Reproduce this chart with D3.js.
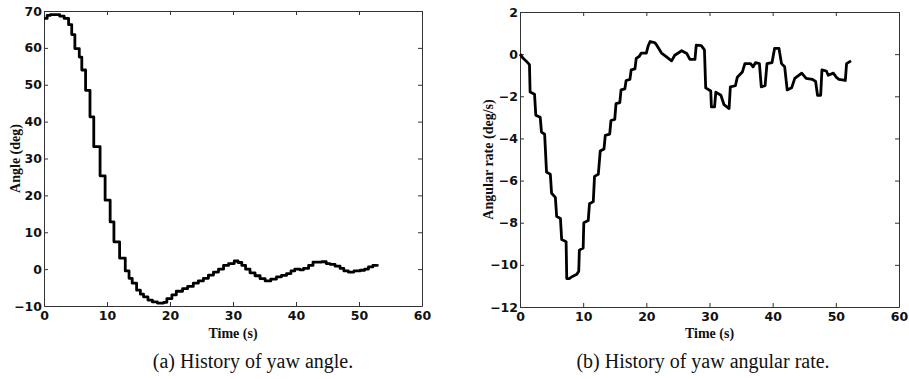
<!DOCTYPE html>
<html>
<head>
  <meta charset="utf-8">
  <title>Yaw history</title>
  <script src="https://d3js.org/d3.v7.min.js"></script>
  <style>
    body { margin: 0; background: #fff; }
    .tick text { font: bold 12.5px "DejaVu Sans", Arial, sans-serif; fill: #111; }
    .lbl { font: bold 14px "Liberation Serif", "Times New Roman", serif; fill: #111; }
    .cap { font: 20px "Liberation Serif", "Times New Roman", serif; fill: #111; }
  </style>
</head>
<body>
  <script>
    // yaw angle (deg) vs time (s), stepwise hold
    var angleTime = [0, 0.5, 1, 2.5, 3.2, 3.9, 4.4, 4.9, 5.6, 6.0, 6.6, 7.3, 7.9, 8.9, 9.7, 10.5, 11.1, 12.0, 12.9, 13.5,
      14.0, 14.7, 15.3, 15.8, 16.5, 17.2, 18.0, 19.0, 19.5, 20.3, 21.0, 22.0, 22.8, 23.7, 24.5, 25.3, 26.1, 26.9, 27.7, 28.5,
      29.3, 30.2, 30.8, 31.4, 32.0, 32.7, 33.5, 34.3, 35.1, 36.0, 36.9, 37.7, 38.5, 39.2, 39.8, 40.6, 41.2, 42.0, 42.7, 44.1,
      44.8, 45.4, 46.2, 47.0, 47.6, 48.3, 49.2, 50.2, 50.9, 51.5, 52.2, 52.9];
    var angleDeg = [68.0, 68.8, 69.0, 68.6, 68.0, 66.3, 63.6, 59.8, 57.5, 54.0, 48.5, 41.3, 33.2, 25.3, 18.7, 12.8, 7.4, 3.0, -0.5, -2.5,
      -3.8, -5.7, -6.8, -7.5, -8.4, -8.9, -9.2, -9.0, -8.0, -7.0, -6.0, -5.3, -4.7, -3.8, -3.2, -2.5, -1.6, -0.8, 0.0, 1.0,
      1.5, 2.2, 1.8, 1.0, 0.0, -1.0, -1.8, -2.6, -3.2, -2.7, -2.1, -1.7, -1.2, -0.5, 0.0, -0.2, 0.2, 1.0, 1.9, 2.0,
      1.5, 1.3, 0.8, 0.2, -0.5, -0.8, -0.5, -0.3, 0.0, 0.6, 1.0, 1.3];

    // yaw angular rate (deg/s) vs time (s)
    var rateTime = [0, 0.5, 1.2, 1.5, 1.6, 2.3, 2.5, 3.2, 3.4, 3.9, 4.2, 4.8, 5.0, 5.6, 5.8, 6.4, 6.6, 7.3, 7.4, 7.8,
      8.3, 9.0, 9.3, 9.4, 10.0, 10.1, 10.8, 11.0, 11.6, 11.8, 12.4, 12.7, 13.3, 13.5, 14.2, 14.4, 15.0, 15.2, 15.8, 16.0,
      16.6, 16.8, 17.4, 17.6, 18.2, 18.4, 18.9, 19.2, 20.0, 20.3, 20.6, 21.3, 21.6, 22.4, 23.2, 24.0, 24.5, 25.6, 26.4, 26.9,
      27.7, 27.9, 28.7, 29.2, 29.4, 30.2, 30.3, 30.8, 31.0, 31.8, 32.3, 33.1, 33.3, 34.1, 34.4, 35.2, 35.6, 36.5, 36.9, 37.3,
      37.9, 38.2, 38.8, 39.1, 39.9, 40.3, 41.0, 41.4, 41.9, 42.3, 43.0, 43.5, 44.6, 45.3, 46.3, 46.8, 47.1, 47.6, 47.8, 48.5,
      48.8, 49.6, 50.1, 50.5, 51.5, 51.7, 52.4];
    var rateDeg = [0, -0.2, -0.4, -0.5, -1.8, -1.9, -2.9, -3.0, -3.7, -3.8, -5.6, -5.7, -6.6, -6.8, -7.7, -7.8, -8.8, -8.9, -10.65, -10.65,
      -10.55, -10.45, -10.3, -9.3, -9.2, -8.0, -7.9, -7.1, -7.0, -5.8, -5.7, -4.6, -4.5, -3.85, -3.8, -3.15, -3.1, -2.35, -2.3, -1.7,
      -1.65, -1.25, -1.2, -0.75, -0.7, -0.2, -0.1, 0.05, 0.05, 0.4, 0.6, 0.55, 0.45, 0.05, -0.13, -0.32, -0.05, 0.16, 0.03, -0.25,
      -0.25, 0.43, 0.4, 0.2, -1.6, -1.75, -2.5, -2.5, -1.8, -1.95, -2.4, -2.58, -1.55, -1.5, -1.1, -0.85, -0.45, -0.45, -0.6, -0.4,
      -0.45, -1.55, -1.5, -0.45, -0.4, 0.27, 0.27, -0.45, -0.6, -1.7, -1.6, -1.15, -0.9, -1.15, -1.2, -1.3, -1.95, -1.95, -0.75, -0.8,
      -1.0, -0.9, -1.1, -1.2, -1.25, -0.45, -0.32];

    var xTicks = [0, 10, 20, 30, 40, 50, 60];
    var angleTicks = [-10, 0, 10, 20, 30, 40, 50, 60, 70];
    var rateTicks = [-12, -10, -8, -6, -4, -2, 0, 2];

    var svg = d3.select('body').append('svg')
      .attr('width', 909)
      .attr('height', 379);

    function panel(opt) {
      var x = d3.scaleLinear().domain([0, 60]).range([opt.left, opt.right]);
      var y = d3.scaleLinear().domain(opt.yDomain).range([opt.bottom, opt.top]);
      var g = svg.append('g');

      // box with inward ticks on all four sides
      g.append('g').attr('transform', 'translate(0,' + opt.bottom + ')')
        .call(d3.axisBottom(x).tickValues(xTicks).tickSizeInner(-4).tickSizeOuter(0).tickPadding(5));
      g.append('g').attr('transform', 'translate(0,' + opt.top + ')')
        .call(d3.axisTop(x).tickValues(xTicks).tickSizeInner(-4).tickSizeOuter(0).tickFormat(''));
      g.append('g').attr('transform', 'translate(' + opt.left + ',0)')
        .call(d3.axisLeft(y).tickValues(opt.yTicks).tickSizeInner(-4).tickSizeOuter(0).tickPadding(2));
      g.append('g').attr('transform', 'translate(' + opt.right + ',0)')
        .call(d3.axisRight(y).tickValues(opt.yTicks).tickSizeInner(-4).tickSizeOuter(0).tickFormat(''));
      g.selectAll('.domain').attr('stroke', '#333');
      g.selectAll('.tick line').attr('stroke', '#333');

      var pts = opt.t.map(function(d, i) { return [d, opt.v[i]]; });
      g.append('path')
        .datum(pts)
        .attr('fill', 'none')
        .attr('stroke', '#000')
        .attr('stroke-width', 2.8)
        .attr('stroke-linejoin', 'round')
        .attr('d', d3.line()
          .x(function(d) { return x(d[0]); })
          .y(function(d) { return y(d[1]); })
          .curve(opt.curve));

      g.append('text').attr('class', 'lbl')
        .attr('x', (opt.left + opt.right) / 2)
        .attr('y', 338)
        .attr('text-anchor', 'middle')
        .text('Time (s)');
      g.append('text').attr('class', 'lbl')
        .attr('transform', 'translate(' + opt.yLabelX + ',' + (opt.top + opt.bottom) / 2 + ') rotate(-90)')
        .attr('text-anchor', 'middle')
        .text(opt.yLabel);
      g.append('text').attr('class', 'cap')
        .attr('x', opt.capX)
        .attr('y', 368)
        .attr('text-anchor', 'middle')
        .text(opt.caption);
    }

    panel({
      left: 44, right: 422, top: 11, bottom: 306,
      yDomain: [-10, 70], yTicks: angleTicks,
      t: angleTime, v: angleDeg, curve: d3.curveStepAfter,
      yLabel: 'Angle (deg)', yLabelX: 20,
      caption: '(a) History of yaw angle.', capX: 253
    });

    panel({
      left: 520, right: 899, top: 12, bottom: 307,
      yDomain: [-12, 2], yTicks: rateTicks,
      t: rateTime, v: rateDeg, curve: d3.curveLinear,
      yLabel: 'Angular rate (deg/s)', yLabelX: 493,
      caption: '(b) History of yaw angular rate.', capX: 703
    });
  </script>
</body>
</html>
